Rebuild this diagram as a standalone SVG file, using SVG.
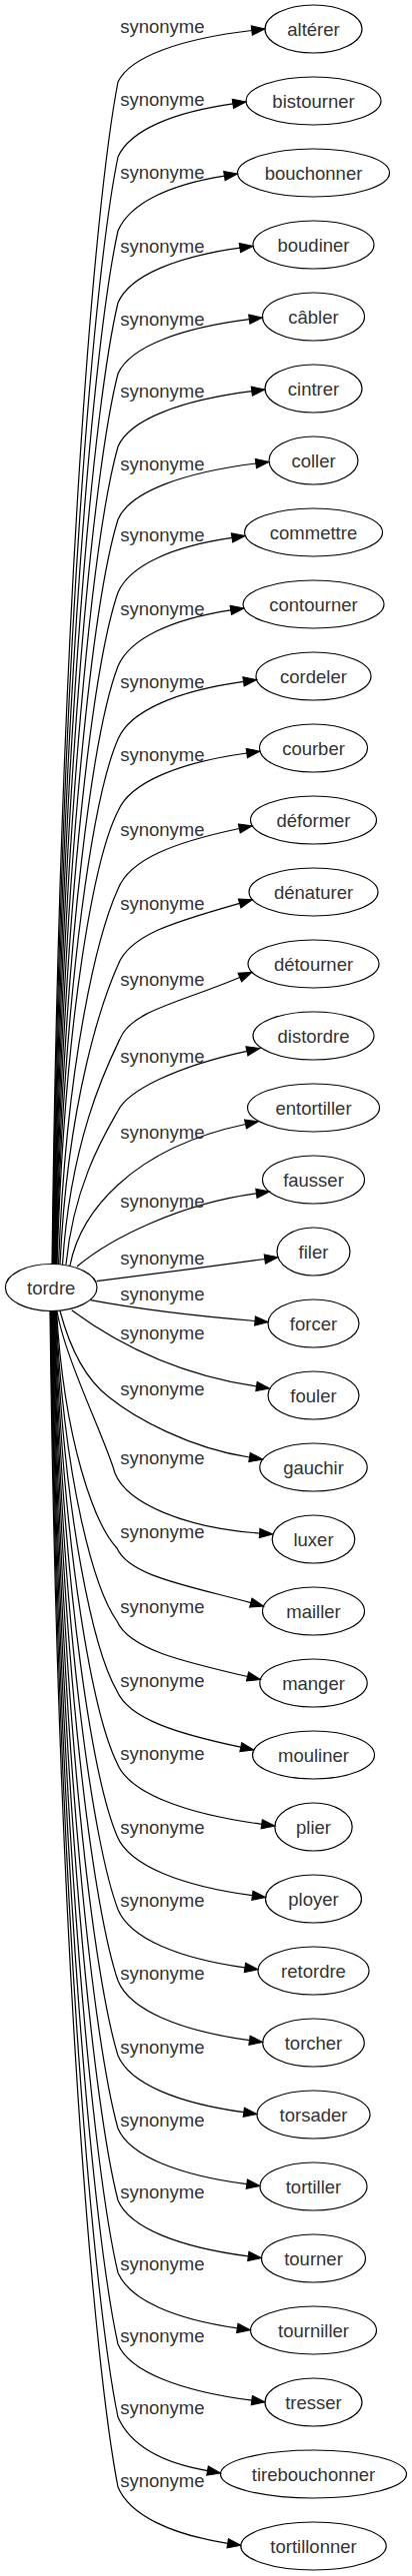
<svg xmlns="http://www.w3.org/2000/svg" width="412" height="2579" viewBox="0 0 412 2579">
<defs>
<style>
.n ellipse{fill:none;stroke:#000;stroke-width:1.2}
text{font-family:"Liberation Sans",Arial,sans-serif;font-size:18.5px;fill:#333;text-anchor:middle}
.e path{fill:none;stroke:#000;stroke-width:1.2;marker-end:url(#a)}
</style>
<marker id="a" markerUnits="userSpaceOnUse" markerWidth="16" markerHeight="12" viewBox="0 0 16 12" refX="1" refY="6" orient="auto">
<path d="M1,1.33 L14.3,6 L1,10.67 Z" fill="#000" stroke="#000" stroke-width="1"/>
</marker>
</defs>
<rect width="412" height="2579" fill="#fff"/>
<g id="connectors" class="e">
<path d="M52,1266 C60,603 95,200.4 118,82 C130,56.3 182.2,38.7 251.8,30.5"/><text x="162.3" y="32.5">synonyme</text>
<path d="M52.5,1266 C60.5,645 95,268 118,157 C130,130.3 173.2,112.4 232.9,103.9"/><text x="162.3" y="106.2">synonyme</text>
<path d="M53,1266 C61,686.4 95,334.5 118,231 C130,203.5 169.1,184.9 224.4,176.1"/><text x="162.3" y="178.5">synonyme</text>
<path d="M53.5,1266 C61.5,726.7 95,399.3 118,303 C130,275.6 176.5,257 239.9,248.2"/><text x="162.3" y="252.8">synonyme</text>
<path d="M54,1266 C62,766.5 95,463.2 118,374 C130,346.9 181,328.4 249.3,319.7"/><text x="162.3" y="325.5">synonyme</text>
<path d="M54.5,1266 C62.5,807.4 95,528.9 118,447 C130,419.4 182.2,400.6 251.8,391.7"/><text x="162.3" y="398.2">synonyme</text>
<path d="M55,1266 C63,848.2 95,594.6 118,520 C130,492 184.1,473 255.9,464"/><text x="162.3" y="470.5">synonyme</text>
<path d="M55.5,1266 C63.5,889.1 95,660.3 118,593 C130,565.7 172.7,547 232,538.4"/><text x="162.3" y="541.5">synonyme</text>
<path d="M56,1266 C64,930.6 95,726.9 118,667 C130,639 172.1,619.9 230.8,610.9"/><text x="162.3" y="615.5">synonyme</text>
<path d="M56.5,1266 C64.5,971.4 95,792.6 118,740 C130,711.2 178.2,691.6 243.5,682.4"/><text x="162.3" y="688.5">synonyme</text>
<path d="M57,1266 C65,1011.8 95,857.4 118,812 C130,783 179.8,763.3 246.8,754"/><text x="162.3" y="762.2">synonyme</text>
<path d="M58.5,1266 C66.5,1055.4 99,932 118,890 C130,859.8 175.2,843.1 239.3,829.5"/><text x="162.3" y="837.2">synonyme</text>
<path d="M60,1266 C68,1098 103,1000 118,966 C130,935.2 176.5,922.5 239.6,904.4"/><text x="162.3" y="911.2">synonyme</text>
<path d="M62.5,1266 C70.5,1139.4 108,1065 120,1040 C131,1012 180.2,1003.8 239.8,978.5"/><text x="162.3" y="987.2">synonyme</text>
<path d="M66,1266 C74,1185 105,1135 118,1112 C128,1092 175,1068 246.9,1052.3"/><text x="162.3" y="1063.5">synonyme</text>
<path d="M70,1267 C80,1215 130,1150 245.5,1125.5"/><text x="162.3" y="1139.5">synonyme</text>
<path d="M77,1268 C110,1240 180,1205 256.4,1194.8"/><text x="162.3" y="1208.8">synonyme</text>
<path d="M96.7,1282.7 C150,1276 210,1268 264.8,1260.5"/><text x="162.3" y="1265.5">synonyme</text>
<path d="M90.7,1301.7 C140,1311 200,1318 255,1322.5"/><text x="162.3" y="1302.2">synonyme</text>
<path d="M71.7,1311.7 C110,1340 170,1375 256.5,1388"/><text x="162.3" y="1340.5">synonyme</text>
<path d="M60,1312.5 C70,1350 85,1380 108,1398 C135,1420 190,1450 249.5,1459"/><text x="162.3" y="1397.2">synonyme</text>
<path d="M57,1312.5 C65,1360 105,1440 115,1475 C127,1505 185,1530 259.6,1535"/><text x="162.3" y="1466.2">synonyme</text>
<path d="M56.5,1312.5 C64.5,1445.5 95,1526.3 117,1550 C129,1577.3 183.6,1586.6 250.8,1604.6"/><text x="162.3" y="1539.5">synonyme</text>
<path d="M56,1312.5 C64,1486.4 95,1592 117,1623 C129,1650.8 181.5,1663.2 247.5,1678.5"/><text x="162.3" y="1614.5">synonyme</text>
<path d="M55.5,1312.5 C63.5,1525.6 95,1655 117,1693 C129,1721.1 177.8,1735.8 240.8,1749.2"/><text x="162.3" y="1688.8">synonyme</text>
<path d="M55,1312.5 C63,1565.9 95,1719.8 117,1765 C129,1795.5 186.5,1816.2 261.7,1826.3"/><text x="162.3" y="1762.2">synonyme</text>
<path d="M54.5,1312.5 C62.5,1606.8 95,1785.5 117,1838 C129,1867.9 182,1888.2 252.4,1897.7"/><text x="162.3" y="1835.5">synonyme</text>
<path d="M54,1312.5 C62,1648.1 95,1851.8 118,1911.7 C130,1940.8 178.9,1960.6 244.9,1969.9"/><text x="162.3" y="1908.8">synonyme</text>
<path d="M53.5,1312.5 C61.5,1688 95,1916 118,1983 C130,2012.9 181.1,2033.2 249.5,2042.7"/><text x="162.3" y="1982.2">synonyme</text>
<path d="M53,1312.5 C61,1730 95,1983.5 118,2058 C130,2086.4 178.4,2105.6 243.8,2114.7"/><text x="162.3" y="2055.5">synonyme</text>
<path d="M52.5,1312.5 C60.5,1770.9 95,2049.2 118,2131 C130,2158.9 179.8,2177.8 246.8,2186.7"/><text x="162.3" y="2128.8">synonyme</text>
<path d="M52,1312.5 C60,1811.2 95,2114 118,2203 C130,2231 180.5,2250 248.3,2258.9"/><text x="162.3" y="2200.5">synonyme</text>
<path d="M51.5,1312.5 C59.5,1851.8 95,2179.2 118,2275.5 C130,2303.2 175.3,2322 237.3,2330.9"/><text x="162.3" y="2273.2">synonyme</text>
<path d="M51,1312.5 C59,1891.8 95,2243.6 118,2347 C130,2375.1 182.2,2394.2 251.8,2403.2"/><text x="162.3" y="2344.8">synonyme</text>
<path d="M50.5,1312.5 C58.5,1932.7 95,2309.3 118,2420 C130,2447.1 160.9,2465.5 207.5,2473.6"/><text x="162.3" y="2417.2">synonyme</text>
<path d="M50,1312.5 C58,1971.9 95,2372.3 118,2490 C130,2518.2 170.7,2537.3 227.7,2546.3"/><text x="162.3" y="2489.5">synonyme</text>
</g>
<g id="n-tordre" class="n"><ellipse cx="51.2" cy="1289" rx="45.8" ry="23.5"/><text x="51.2" y="1295.5">tordre</text></g>
<g id="n-alterer" class="n"><ellipse cx="313.5" cy="29" rx="48.5" ry="24"/><text x="313.5" y="35.5">altérer</text></g>
<g id="n-bistourner" class="n"><ellipse cx="313.5" cy="101" rx="67.5" ry="24"/><text x="313.5" y="107.5">bistourner</text></g>
<g id="n-bouchonner" class="n"><ellipse cx="313.5" cy="173" rx="76" ry="24"/><text x="313.5" y="179.5">bouchonner</text></g>
<g id="n-boudiner" class="n"><ellipse cx="313.5" cy="245" rx="60.5" ry="24"/><text x="313.5" y="251.5">boudiner</text></g>
<g id="n-cabler" class="n"><ellipse cx="313.5" cy="317" rx="51" ry="24"/><text x="313.5" y="323.5">câbler</text></g>
<g id="n-cintrer" class="n"><ellipse cx="313.5" cy="389" rx="48.5" ry="24"/><text x="313.5" y="395.5">cintrer</text></g>
<g id="n-coller" class="n"><ellipse cx="313.5" cy="461" rx="44.5" ry="24"/><text x="313.5" y="467.5">coller</text></g>
<g id="n-commettre" class="n"><ellipse cx="313.5" cy="533" rx="69" ry="24"/><text x="313.5" y="539.5">commettre</text></g>
<g id="n-contourner" class="n"><ellipse cx="313.5" cy="605" rx="70.5" ry="24"/><text x="313.5" y="611.5">contourner</text></g>
<g id="n-cordeler" class="n"><ellipse cx="313.5" cy="677" rx="57.5" ry="24"/><text x="313.5" y="683.5">cordeler</text></g>
<g id="n-courber" class="n"><ellipse cx="313.5" cy="749" rx="54" ry="24"/><text x="313.5" y="755.5">courber</text></g>
<g id="n-deformer" class="n"><ellipse cx="313.5" cy="821" rx="63" ry="24"/><text x="313.5" y="827.5">déformer</text></g>
<g id="n-denaturer" class="n"><ellipse cx="313.5" cy="893" rx="64.5" ry="24"/><text x="313.5" y="899.5">dénaturer</text></g>
<g id="n-detourner" class="n"><ellipse cx="313.5" cy="965" rx="65.5" ry="24"/><text x="313.5" y="971.5">détourner</text></g>
<g id="n-distordre" class="n"><ellipse cx="313.5" cy="1037" rx="60.5" ry="24"/><text x="313.5" y="1043.5">distordre</text></g>
<g id="n-entortiller" class="n"><ellipse cx="313.5" cy="1109" rx="66" ry="24"/><text x="313.5" y="1115.5">entortiller</text></g>
<g id="n-fausser" class="n"><ellipse cx="313.5" cy="1181" rx="51" ry="24"/><text x="313.5" y="1187.5">fausser</text></g>
<g id="n-filer" class="n"><ellipse cx="313.5" cy="1253" rx="36.5" ry="24"/><text x="313.5" y="1259.5">filer</text></g>
<g id="n-forcer" class="n"><ellipse cx="313.5" cy="1325" rx="45.5" ry="24"/><text x="313.5" y="1331.5">forcer</text></g>
<g id="n-fouler" class="n"><ellipse cx="313.5" cy="1397" rx="45.5" ry="24"/><text x="313.5" y="1403.5">fouler</text></g>
<g id="n-gauchir" class="n"><ellipse cx="313.5" cy="1469" rx="53.7" ry="24"/><text x="313.5" y="1475.5">gauchir</text></g>
<g id="n-luxer" class="n"><ellipse cx="313.5" cy="1541" rx="41.3" ry="24"/><text x="313.5" y="1547.5">luxer</text></g>
<g id="n-mailler" class="n"><ellipse cx="313.5" cy="1613" rx="51" ry="24"/><text x="313.5" y="1619.5">mailler</text></g>
<g id="n-manger" class="n"><ellipse cx="313.5" cy="1685" rx="53.7" ry="24"/><text x="313.5" y="1691.5">manger</text></g>
<g id="n-mouliner" class="n"><ellipse cx="313.5" cy="1757" rx="61" ry="24"/><text x="313.5" y="1763.5">mouliner</text></g>
<g id="n-plier" class="n"><ellipse cx="313.5" cy="1829" rx="38.7" ry="24"/><text x="313.5" y="1835.5">plier</text></g>
<g id="n-ployer" class="n"><ellipse cx="313.5" cy="1901" rx="48" ry="24"/><text x="313.5" y="1907.5">ployer</text></g>
<g id="n-retordre" class="n"><ellipse cx="313.5" cy="1973" rx="55.5" ry="24"/><text x="313.5" y="1979.5">retordre</text></g>
<g id="n-torcher" class="n"><ellipse cx="313.5" cy="2045" rx="50.8" ry="24"/><text x="313.5" y="2051.5">torcher</text></g>
<g id="n-torsader" class="n"><ellipse cx="313.5" cy="2117" rx="56.5" ry="24"/><text x="313.5" y="2123.5">torsader</text></g>
<g id="n-tortiller" class="n"><ellipse cx="313.5" cy="2189" rx="53.5" ry="24"/><text x="313.5" y="2195.5">tortiller</text></g>
<g id="n-tourner" class="n"><ellipse cx="313.5" cy="2261" rx="52" ry="24"/><text x="313.5" y="2267.5">tourner</text></g>
<g id="n-tourniller" class="n"><ellipse cx="313.5" cy="2333" rx="63" ry="24"/><text x="313.5" y="2339.5">tourniller</text></g>
<g id="n-tresser" class="n"><ellipse cx="313.5" cy="2405" rx="48.5" ry="24"/><text x="313.5" y="2411.5">tresser</text></g>
<g id="n-tirebouchonner" class="n"><ellipse cx="313.5" cy="2477" rx="93" ry="24"/><text x="313.5" y="2483.5">tirebouchonner</text></g>
<g id="n-tortillonner" class="n"><ellipse cx="313.5" cy="2549" rx="72.7" ry="24"/><text x="313.5" y="2555.5">tortillonner</text></g>
</svg>
